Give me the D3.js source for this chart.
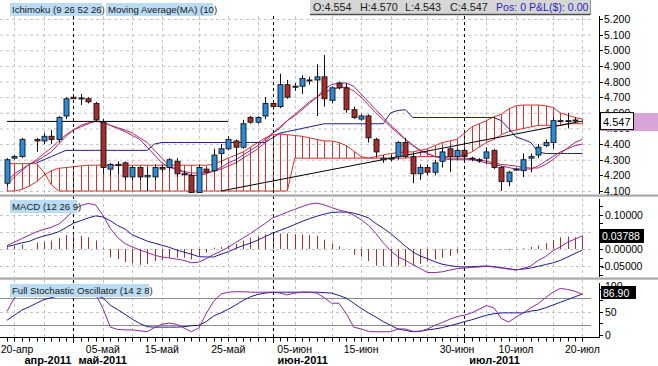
<!DOCTYPE html>
<html><head><meta charset="utf-8">
<script src="https://cdn.jsdelivr.net/npm/d3@7"></script>
<style>body{margin:0;background:#fff;}svg{display:block;font-family:"Liberation Sans",Arial,sans-serif;}</style>
</head><body><svg id="c" width="658" height="366"></svg>
<script>
const dates = ["2011-04-20","2011-04-21","2011-04-22","2011-04-24","2011-04-25","2011-04-26","2011-04-27","2011-04-28","2011-04-29",
"2011-05-01","2011-05-02","2011-05-03","2011-05-04","2011-05-05","2011-05-06","2011-05-08","2011-05-09","2011-05-10","2011-05-11","2011-05-12","2011-05-13",
"2011-05-15","2011-05-16","2011-05-17","2011-05-18","2011-05-19","2011-05-20","2011-05-22","2011-05-23","2011-05-24","2011-05-25","2011-05-26","2011-05-27",
"2011-05-29","2011-05-30","2011-05-31","2011-06-01","2011-06-02","2011-06-03","2011-06-05","2011-06-06","2011-06-07","2011-06-08","2011-06-09","2011-06-10",
"2011-06-12","2011-06-13","2011-06-14","2011-06-15","2011-06-16","2011-06-17","2011-06-19","2011-06-20","2011-06-21","2011-06-22","2011-06-23","2011-06-24",
"2011-06-26","2011-06-27","2011-06-28","2011-06-29","2011-06-30","2011-07-01","2011-07-03","2011-07-04","2011-07-05","2011-07-06","2011-07-07","2011-07-08",
"2011-07-10","2011-07-11","2011-07-12","2011-07-13","2011-07-14","2011-07-15","2011-07-17","2011-07-18","2011-07-19","2011-07-20"];

const open = [4.15,4.31,4.32,null,4.43,4.42,4.45,4.43,4.58,4.70,4.69,4.69,4.66,4.54,4.24,4.27,4.28,4.19,4.25,4.19,
4.19,4.25,4.25,4.29,4.21,4.20,4.09,4.24,4.23,4.34,4.37,4.42,4.38,4.57,4.54,4.58,4.66,4.64,4.78,4.77,
4.77,4.81,4.81,4.83,4.68,4.79,4.76,4.62,4.56,4.58,4.43,4.30,4.31,4.32,4.41,4.32,4.21,4.25,4.22,4.29,
4.37,4.32,4.36,4.31,4.30,4.31,4.36,4.25,4.16,4.24,4.23,4.31,4.33,4.39,4.41,4.55,4.55,4.554,null];
const high = [4.31,4.33,4.44,null,4.44,4.47,4.49,4.58,4.70,4.71,4.72,4.70,4.67,4.56,4.28,4.29,4.29,4.26,4.26,4.25,
4.27,4.27,4.31,4.31,4.23,4.21,4.27,4.25,4.37,4.40,4.45,4.43,4.555,4.58,4.58,4.70,4.68,4.85,4.81,4.79,
4.84,4.83,4.91,4.97,4.77,4.80,4.79,4.64,4.59,4.59,4.44,4.33,4.33,4.42,4.44,4.34,4.27,4.27,4.30,4.37,
4.39,4.37,4.37,4.32,4.31,4.38,4.37,4.26,4.23,4.25,4.34,4.34,4.40,4.43,4.57,4.56,4.60,4.570,null];
const low = [4.13,4.30,4.31,null,4.35,4.40,4.40,4.41,4.56,4.69,4.65,4.66,4.54,4.21,4.20,4.21,4.17,4.17,4.17,4.10,
4.17,4.22,4.23,4.19,4.20,4.09,4.09,4.22,4.22,4.27,4.36,4.27,4.37,4.53,4.53,4.56,4.62,4.63,4.69,4.74,
4.72,4.78,4.58,4.64,4.66,4.75,4.60,4.56,4.55,4.41,4.32,4.28,4.29,4.30,4.31,4.15,4.17,4.20,4.20,4.25,
4.22,4.30,4.30,4.29,4.28,4.27,4.24,4.10,4.13,4.23,4.19,4.22,4.31,4.38,4.37,4.54,4.50,4.543,null];
const close = [4.30,4.32,4.43,null,4.42,4.45,4.43,4.57,4.69,4.69,4.695,4.67,4.555,4.25,4.27,4.27,4.19,4.25,4.19,4.20,
4.25,4.24,4.30,4.21,4.21,4.09,4.25,4.22,4.33,4.37,4.43,4.38,4.53,4.54,4.57,4.66,4.64,4.78,4.70,4.77,
4.82,4.81,4.83,4.69,4.76,4.76,4.62,4.57,4.58,4.44,4.35,4.31,4.31,4.41,4.32,4.21,4.25,4.22,4.28,4.35,
4.32,4.36,4.32,4.31,4.30,4.35,4.25,4.16,4.22,4.24,4.30,4.32,4.38,4.41,4.55,4.55,4.55,4.547,null];

const tenkan = [4.16,4.21,4.24,4.27,4.29,4.32,4.35,4.40,4.45,4.49,4.52,4.535,4.545,4.54,4.52,4.50,4.48,4.455,4.43,4.38,
4.33,4.28,4.25,4.24,4.22,4.20,4.20,4.21,4.23,4.25,4.28,4.30,4.33,4.36,4.39,4.43,4.47,4.50,4.55,4.58,
4.62,4.66,4.70,4.75,4.78,4.79,4.79,4.77,4.72,4.67,4.62,4.57,4.52,4.48,4.43,4.39,4.36,4.34,4.32,4.31,
4.30,4.30,4.30,4.30,4.29,4.28,4.27,4.26,4.25,4.24,4.24,4.24,4.26,4.29,4.32,4.35,4.37,4.39,4.40];
const kijun = [null,null,null,null,4.28,4.30,4.32,4.34,4.36,4.36,4.36,4.36,4.36,4.36,4.36,4.36,4.36,4.36,4.36,4.36,
4.40,4.41,4.41,4.41,4.41,4.41,4.41,4.41,4.41,4.41,4.41,4.41,4.41,4.41,4.41,4.41,4.44,4.47,4.48,4.49,
4.50,4.51,4.52,4.53,4.53,4.53,4.53,4.53,4.53,4.53,4.53,4.53,4.60,4.615,4.62,4.57,4.57,4.57,4.57,4.57,
4.57,4.57,4.57,4.57,4.57,4.57,4.57,4.55,4.50,4.445,4.43,4.41,4.35,4.34,4.34,4.34,4.34,4.34,4.34];
const ma10 = [4.14,4.19,4.23,4.27,4.30,4.34,4.375,4.42,4.46,4.49,4.51,4.53,4.548,4.54,4.52,4.505,4.49,4.47,4.44,4.41,
4.36,4.31,4.26,4.24,4.225,4.215,4.215,4.215,4.225,4.24,4.26,4.28,4.31,4.34,4.37,4.41,4.47,4.51,4.55,4.59,
4.63,4.67,4.70,4.73,4.75,4.76,4.765,4.74,4.70,4.65,4.60,4.555,4.51,4.47,4.43,4.395,4.36,4.34,4.32,4.315,
4.31,4.31,4.31,4.305,4.30,4.29,4.28,4.27,4.265,4.26,4.25,4.247,4.247,4.27,4.30,4.34,4.375,4.41,4.43];
const senkouA = [4.10,4.10,4.11,4.13,4.16,4.20,4.23,4.245,4.25,4.255,4.26,4.265,4.265,4.265,4.265,4.265,4.265,4.265,4.265,4.265,
4.265,4.265,4.265,4.265,4.265,4.265,4.265,4.265,4.27,4.29,4.31,4.33,4.35,4.38,4.41,4.44,4.46,4.465,4.46,4.455,
4.45,4.44,4.43,4.42,4.42,4.41,4.39,4.355,4.32,4.31,4.32,4.33,4.34,4.345,4.35,4.35,4.36,4.37,4.39,4.41,
4.42,4.43,4.47,4.51,4.53,4.55,4.575,4.59,4.625,4.645,4.65,4.65,4.65,4.645,4.635,4.60,4.585,4.57,4.56];
const senkouB = [4.275,4.275,4.275,4.275,4.275,4.22,4.14,4.10,4.10,4.10,4.10,4.10,4.10,4.10,4.10,4.10,4.10,4.10,4.10,4.10,
4.10,4.10,4.10,4.10,4.10,4.10,4.10,4.10,4.10,4.10,4.10,4.10,4.10,4.10,4.10,4.10,4.10,4.10,4.10,4.31,
4.31,4.31,4.31,4.31,4.31,4.31,4.31,4.31,4.31,4.31,4.31,4.31,4.31,4.31,4.31,4.315,4.32,4.32,4.32,4.32,
4.32,4.32,4.33,4.35,4.38,4.41,4.43,4.46,4.48,4.49,4.50,4.51,4.52,4.52,4.52,4.52,4.53,4.53,4.53];

const macd = [0.010,0.020,0.030,0.040,0.050,0.057,0.063,0.072,0.090,0.112,0.126,0.132,0.128,0.098,0.060,0.033,0.016,0.006,-0.003,-0.010,
-0.018,-0.023,-0.026,-0.029,-0.033,-0.040,-0.038,-0.028,-0.016,-0.006,0.005,0.019,0.032,0.045,0.060,0.074,0.090,0.098,0.107,0.115,
0.123,0.130,0.133,0.128,0.120,0.113,0.108,0.098,0.085,0.069,0.045,0.018,-0.005,-0.022,-0.033,-0.045,-0.056,-0.068,-0.068,-0.066,
-0.061,-0.057,-0.055,-0.053,-0.052,-0.050,-0.052,-0.055,-0.058,-0.061,-0.056,-0.049,-0.033,-0.022,-0.005,0.006,0.020,0.029,0.038];
const signal = [0.007,0.012,0.018,0.022,0.031,0.038,0.043,0.050,0.062,0.075,0.082,0.090,0.096,0.093,0.082,0.068,0.058,0.041,0.032,0.023,
0.017,0.011,0.005,-0.003,-0.009,-0.015,-0.022,-0.023,-0.023,-0.015,-0.008,0.002,0.010,0.017,0.026,0.036,0.046,0.054,0.062,0.071,
0.080,0.088,0.095,0.101,0.106,0.107,0.107,0.104,0.098,0.090,0.074,0.060,0.045,0.027,0.008,-0.008,-0.020,-0.028,-0.037,-0.044,
-0.048,-0.051,-0.052,-0.051,-0.050,-0.049,-0.051,-0.054,-0.057,-0.060,-0.058,-0.055,-0.050,-0.045,-0.040,-0.033,-0.023,-0.013,-0.003];
const hist = [0.005,0.010,0.013,null,0.019,0.021,0.024,0.032,0.040,0.040,0.038,0.034,0.025,0.002,-0.024,-0.029,-0.038,-0.042,-0.046,-0.043,
-0.035,-0.032,-0.026,-0.025,-0.025,-0.030,-0.020,-0.010,0.004,0.006,0.010,0.015,0.024,0.033,0.037,0.043,0.046,0.045,0.045,0.043,
0.042,0.040,0.038,0.027,0.015,0.008,0.001,-0.017,-0.022,-0.035,-0.048,-0.050,-0.050,-0.048,-0.050,-0.048,-0.043,-0.037,-0.030,-0.025,
-0.020,-0.012,-0.004,-0.001,-0.001,-0.001,-0.001,-0.002,-0.003,-0.001,0.002,0.006,0.010,0.017,0.026,0.034,0.036,0.034,0.038];

const stochK = [50,80,92,93,90,92,90,95,97,96,95,93,88,57,16,11,10,10,8,6,
15,22,25,22,14,6,14,45,72,88,92,93,93,92,92,92,92,90,86,90,
92,92,90,80,68,68,45,16,12,7,6,6,6,12,12,7,7,12,20,26,
33,39,42,47,55,63,58,35,27,38,47,58,67,80,92,100,98,94,87];
const stochD = [31,42,53,60,68,76,80,84,87,89,90,88,84,80,64,54,44,33,24,17,
16,16,16,16,17,19,20,28,40,47,55,64,74,82,87,90,92,92,92,92,
92,92,92,91,90,85,79,68,57,47,38,28,20,12,9,6,7,10,12,15,
19,23,28,32,37,42,45,47,47,47,47,51,53,58,64,70,76,82,88];

const priceTicks = [4.1,4.2,4.3,4.4,4.5,4.6,4.7,4.8,4.9,5.0,5.1,5.2];
const macdGrid = [0.1,0.05,0,-0.05];
const macdTickLabels = [0.1,0,-0.05];
const macdMinor = [0.125,0.1,0.075,0.05,0.025,0,-0.025,-0.05,-0.075];
const stochTicks = [0,50,100];
const stochMinor = [0,25,50,75,100];
const gridDates = ["2011-04-21","2011-04-26","2011-05-05","2011-05-10","2011-05-15","2011-05-20","2011-05-25","2011-05-30","2011-06-05","2011-06-10","2011-06-15","2011-06-20","2011-06-26","2011-06-30","2011-07-05","2011-07-10","2011-07-15","2011-07-20"];
const monthLines = ["2011-05-01","2011-06-01","2011-07-01"];
const dayLabelDates = ["2011-04-20","2011-05-05","2011-05-15","2011-05-25","2011-06-05","2011-06-15","2011-06-30","2011-07-10","2011-07-20"];
const dayLabelText = ["20-апр","05-май","15-май","25-май","05-июн","15-июн","30-июн","10-июл","20-июл"];
const monthStarts = ["2011-05-01","2011-05-01","2011-06-01","2011-07-01"];
const monthText = ["апр-2011","май-2011","июн-2011","июл-2011"];
const trendLine = [["2011-05-24",4.10],["2011-07-20",4.547]];
const hLine = [["2011-04-20",4.545],["2011-05-25",4.545]];
const lastPrice = 4.547, lastMacd = 0.03788, lastStoch = 86.90;
const headerItems = ["O:4.554","H:4.570","L:4.543","C:4.547"];
const headerPos = "Pos: 0 P&L($): 0.00";
const legendMain = ["Ichimoku (9 26 52 26)","Moving Average(MA) (10)"];
const legendMacd = "MACD (12 26 9)";
const legendStoch = "Full Stochastic Oscillator (14 2 8)";

// ---------- drawing ----------
const svg = d3.select("#c");
const W = 658, plotR = 591, axisX = 599;
const P = {main:[16,194], macd:[198,277], stoch:[280,337]};
const x = d3.scalePoint().domain(dates).range([7, 582.4]);
const yP = d3.scaleLinear().domain([4.1,5.2]).range([191,19]);
const yM = d3.scaleLinear().domain([-0.05,0.1]).range([266.3,214.5]);
const yS = d3.scaleLinear().domain([0,100]).range([334.5,288.5]);
const idx = dates.map((d,i)=>i);

const defs = svg.append("defs");
Object.entries(P).forEach(([k,[t,b]])=>{
  defs.append("clipPath").attr("id","clip-"+k).append("rect").attr("x",0).attr("y",t).attr("width",plotR).attr("height",b-t);
});
const gMain = svg.append("g").attr("clip-path","url(#clip-main)");
const gMacd = svg.append("g").attr("clip-path","url(#clip-macd)");
const gSto = svg.append("g").attr("clip-path","url(#clip-stoch)");

const gridCol = "#c4c4c4";
gMain.selectAll(".hg").data(priceTicks).join("line").attr("x1",0).attr("x2",plotR)
  .attr("y1",d=>yP(d)+0.5).attr("y2",d=>yP(d)+0.5).attr("stroke",gridCol).attr("stroke-dasharray","3,3");
gMacd.selectAll(".hg").data(macdGrid).join("line").attr("x1",0).attr("x2",plotR)
  .attr("y1",d=>Math.round(yM(d))+0.5).attr("y2",d=>Math.round(yM(d))+0.5).attr("stroke",gridCol).attr("stroke-dasharray","3,3");
gSto.append("line").attr("x1",0).attr("x2",plotR).attr("y1",Math.round(yS(50))+0.5).attr("y2",Math.round(yS(50))+0.5).attr("stroke",gridCol).attr("stroke-dasharray","3,3");
[[gMain,P.main],[gMacd,P.macd],[gSto,P.stoch]].forEach(([g,[t,b]])=>{
  g.selectAll(".vg").data(gridDates).join("line").attr("x1",d=>Math.round(x(d))+0.5).attr("x2",d=>Math.round(x(d))+0.5)
   .attr("y1",t).attr("y2",b).attr("stroke",gridCol).attr("stroke-dasharray","3,3");
});
gSto.selectAll(".lv").data([20,80]).join("line").attr("x1",0).attr("x2",plotR)
  .attr("y1",d=>Math.round(yS(d))+0.5).attr("y2",d=>Math.round(yS(d))+0.5).attr("stroke","#8c8c8c");

const cloudCol = "#d8302c";
gMain.selectAll(".hatch").data(idx).join("line")
  .attr("x1",i=>Math.round(x(dates[i]))+0.5).attr("x2",i=>Math.round(x(dates[i]))+0.5)
  .attr("y1",i=>yP(senkouA[i])).attr("y2",i=>yP(senkouB[i])).attr("stroke",cloudCol).attr("stroke-width",1);
const lineP = arr => d3.line().defined(i=>arr[i]!=null).x(i=>x(dates[i])).y(i=>yP(arr[i]))(idx);
gMain.append("path").attr("d",lineP(senkouA)).attr("fill","none").attr("stroke",cloudCol).attr("stroke-width",1);
gMain.append("path").attr("d",lineP(senkouB)).attr("fill","none").attr("stroke",cloudCol).attr("stroke-width",1);
gMain.append("path").attr("d",lineP(kijun)).attr("fill","none").attr("stroke","#1c1c8c").attr("stroke-width",1);
gMain.append("path").attr("d",lineP(tenkan)).attr("fill","none").attr("stroke","#8a2a9a").attr("stroke-width",1);
gMain.append("path").attr("d",lineP(ma10)).attr("fill","none").attr("stroke","#c0284c").attr("stroke-width",1);

const ptLine = pts => d3.line().x(p=>x(p[0])).y(p=>yP(p[1]))(pts);
gMain.append("path").attr("d",ptLine(hLine)).attr("stroke","#000").attr("stroke-width",1).attr("fill","none");
gMain.append("path").attr("d",ptLine(trendLine)).attr("stroke","#000").attr("stroke-width",1).attr("fill","none");

const cIdx = idx.filter(i=>open[i]!=null);
const cg = gMain.selectAll(".cnd").data(cIdx).join("g");
cg.append("line").attr("x1",i=>Math.round(x(dates[i]))+0.5).attr("x2",i=>Math.round(x(dates[i]))+0.5)
  .attr("y1",i=>yP(high[i])).attr("y2",i=>yP(low[i])).attr("stroke","#111");
cg.append("rect").attr("x",i=>Math.round(x(dates[i]))-2).attr("width",5)
  .attr("y",i=>Math.min(yP(open[i]),yP(close[i])))
  .attr("height",i=>Math.max(1,Math.abs(yP(open[i])-yP(close[i]))))
  .attr("fill",i=>close[i]>=open[i]?"#2b8bd8":"#a62c2c")
  .attr("stroke","#141414").attr("stroke-width",0.9);

gMacd.selectAll(".hb").data(idx.filter(i=>hist[i]!=null)).join("line")
  .attr("x1",i=>Math.round(x(dates[i]))+0.5).attr("x2",i=>Math.round(x(dates[i]))+0.5)
  .attr("y1",yM(0)).attr("y2",i=>yM(hist[i])).attr("stroke","#b02a2a").attr("stroke-width",1);
const lineM = arr => d3.line().x(i=>x(dates[i])).y(i=>yM(arr[i]))(idx);
gMacd.append("path").attr("d",lineM(signal)).attr("fill","none").attr("stroke","#1c1c8c");
gMacd.append("path").attr("d",lineM(macd)).attr("fill","none").attr("stroke","#8a2a9a");
const lineS = arr => d3.line().x(i=>x(dates[i])).y(i=>yS(arr[i]))(idx);
gSto.append("path").attr("d",lineS(stochD)).attr("fill","none").attr("stroke","#1c1c8c");
gSto.append("path").attr("d",lineS(stochK)).attr("fill","none").attr("stroke","#8a2a9a");

svg.selectAll(".ml").data(monthLines).join("line").attr("x1",d=>Math.round(x(d))+0.5).attr("x2",d=>Math.round(x(d))+0.5)
  .attr("y1",16).attr("y2",344).attr("stroke","#000").attr("stroke-dasharray","3,3");

svg.selectAll(".sep").data([194.5,277.5]).join("rect").attr("x",0).attr("width",W).attr("y",d=>d).attr("height",2.2).attr("fill","#a8a8a8");

function legend(txt, x0, y0, w){
  svg.append("rect").attr("x",x0).attr("y",y0).attr("width",w).attr("height",13).attr("fill","#b9dbf3");
  svg.append("text").attr("x",x0+2).attr("y",y0+10).attr("font-size",9.6).attr("fill","#1a1a1a").text(txt);
}
legend(legendMain[0],10,3,92);
legend(legendMain[1],106,3,107);
legend(legendMacd,10,200,67);
legend(legendStoch,10,284,139);

svg.append("rect").attr("x",310).attr("y",0).attr("width",280).attr("height",14).attr("fill","#d6d6d6");
svg.append("line").attr("x1",310).attr("x2",590).attr("y1",14.5).attr("y2",14.5).attr("stroke","#505050").attr("stroke-width",1.5);
svg.append("line").attr("x1",590.5).attr("x2",590.5).attr("y1",0).attr("y2",15).attr("stroke","#909090");
const hx = [313,360,405,450];
headerItems.forEach((t,i)=>svg.append("text").attr("x",hx[i]).attr("y",11).attr("font-size",10.8).attr("fill","#202020").text(t));
svg.append("text").attr("x",496).attr("y",11).attr("font-size",10.6).attr("fill","#2828b8").text(headerPos);

const axG = svg.append("g").attr("font-size",10.5).attr("fill","#000");
function vAxis(t,b){ axG.append("line").attr("x1",axisX+0.5).attr("x2",axisX+0.5).attr("y1",t).attr("y2",b).attr("stroke","#000"); }
vAxis(16,194); vAxis(199,277); vAxis(283,337);
axG.selectAll(".pt").data(priceTicks).join("line").attr("x1",axisX).attr("x2",axisX+4).attr("y1",d=>Math.round(yP(d))+0.5).attr("y2",d=>Math.round(yP(d))+0.5).attr("stroke","#000");
axG.selectAll(".ptl").data(priceTicks).join("text").attr("x",604).attr("y",d=>yP(d)+4).text(d=>d3.format(".3f")(d));
axG.selectAll(".mt").data(macdMinor).join("line").attr("x1",axisX).attr("x2",axisX+4).attr("y1",d=>Math.round(yM(d))+0.5).attr("y2",d=>Math.round(yM(d))+0.5).attr("stroke","#000");
axG.selectAll(".mtl").data(macdTickLabels).join("text").attr("x",d=>d<0?601:605).attr("y",d=>yM(d)+4).text(d=>d3.format(".5f")(d).replace("−","-"));
axG.selectAll(".st").data(stochMinor).join("line").attr("x1",axisX).attr("x2",axisX+4).attr("y1",d=>Math.round(yS(d))+0.5).attr("y2",d=>Math.round(yS(d))+0.5).attr("stroke","#000");
axG.selectAll(".stl").data(stochTicks).join("text").attr("x",605).attr("y",d=>d===100?yS(d)+1:yS(d)+4).text(d=>d);

svg.append("rect").attr("x",600).attr("y",113).attr("width",58).attr("height",18).attr("fill","#d6a4d6");
svg.append("rect").attr("x",600.5).attr("y",yP(lastPrice)-8.5).attr("width",33).attr("height",17).attr("fill","#fff").attr("stroke","#000");
svg.append("text").attr("x",603).attr("y",yP(lastPrice)+4.5).attr("font-size",11).text(d3.format(".3f")(lastPrice));
svg.append("rect").attr("x",600).attr("y",yM(lastMacd)-7).attr("width",44).attr("height",14).attr("fill","#000");
svg.append("text").attr("x",602).attr("y",yM(lastMacd)+4).attr("font-size",10.5).attr("fill","#fff").text(d3.format(".5f")(lastMacd));
svg.append("rect").attr("x",601).attr("y",286).attr("width",35).attr("height",13).attr("fill","#000");
svg.append("text").attr("x",603).attr("y",296.5).attr("font-size",10.5).attr("fill","#fff").text(d3.format(".2f")(lastStoch));

const bY = 337.5;
svg.append("line").attr("x1",0).attr("x2",axisX+1).attr("y1",bY).attr("y2",bY).attr("stroke","#000");
svg.selectAll(".bt").data(dates).join("line").attr("x1",d=>Math.round(x(d))+0.5).attr("x2",d=>Math.round(x(d))+0.5)
  .attr("y1",bY).attr("y2",bY+4).attr("stroke","#000");
svg.selectAll(".dl").data(dayLabelDates).join("text").attr("font-size",10.5).attr("text-anchor","middle")
  .attr("x",d=>Math.max(x(d),17)).attr("y",353).text((d,i)=>dayLabelText[i]);
svg.selectAll(".mlab").data(monthStarts).join("text").attr("font-size",11).attr("font-weight","bold")
  .attr("text-anchor",(d,i)=>i===0?"end":"start")
  .attr("x",(d,i)=>i===0?x(d)-2:x(d)+5).attr("y",364).text((d,i)=>monthText[i]);
</script></body></html>
